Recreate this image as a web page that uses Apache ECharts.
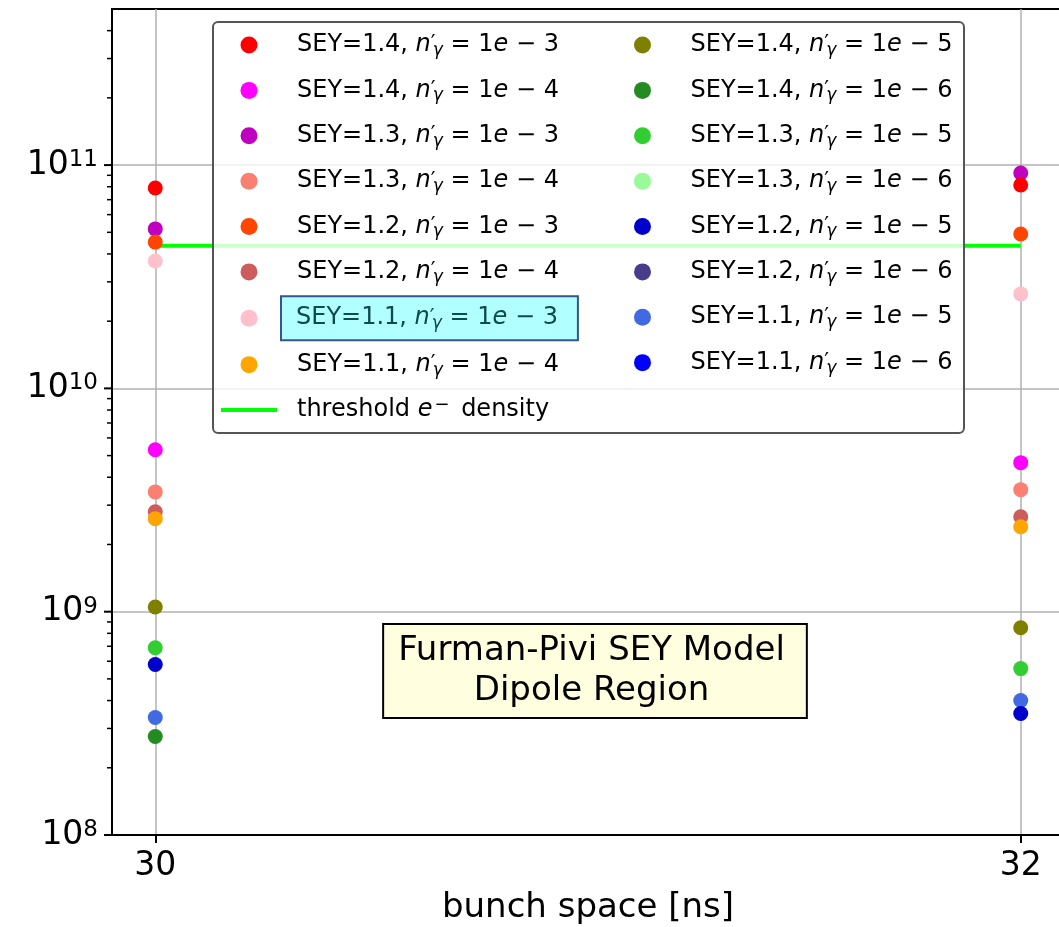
<!DOCTYPE html>
<html><head><meta charset="utf-8">
<script src="https://cdn.jsdelivr.net/npm/echarts@6/dist/echarts.min.js"></script>
<style>html,body{margin:0;padding:0;background:#fff;overflow:hidden}#c{width:1075px;height:927px}</style>
</head><body><div id="c"></div>
<script>
// ---------- data ----------
const bunchSpace = [30, 32];
const xTickValues = [30, 32];
const yMajorTicks = [1e8, 1e9, 1e10, 1e11];
const yMinorTicks = [2e8,3e8,4e8,5e8,6e8,7e8,8e8,9e8,
                     2e9,3e9,4e9,5e9,6e9,7e9,8e9,9e9,
                     2e10,3e10,4e10,5e10,6e10,7e10,8e10,9e10,
                     2e11,3e11,4e11];
const sey14_n3 = [7.9e10, 8.14e10];
const sey14_n4 = [5.31e9, 4.65e9];
const sey13_n3 = [5.18e10, 9.21e10];
const sey13_n4 = [3.44e9, 3.52e9];
const sey12_n3 = [4.52e10, 4.91e10];
const sey12_n4 = [2.80e9, 2.66e9];
const sey11_n3 = [3.72e10, 2.65e10];
const sey11_n4 = [2.61e9, 2.40e9];
const sey14_n5 = [1.05e9, 8.47e8];
const sey14_n6 = [2.76e8, null];
const sey13_n5 = [6.90e8, 5.56e8];
const sey13_n6 = [null, null];
const sey12_n5 = [5.80e8, 3.50e8];
const sey12_n6 = [null, null];
const sey11_n5 = [3.36e8, 4.00e8];
const sey11_n6 = [null, null];
const thresholdDensity = [4.35e10, 4.35e10];

const seyLabels = ['1.4','1.4','1.3','1.3','1.2','1.2','1.1','1.1','1.4','1.4','1.3','1.3','1.2','1.2','1.1','1.1'];
const nExponents = ['3','4','3','4','3','4','3','4','5','6','5','6','5','6','5','6'];
const seriesColors = ['#ff0000','#ff00ff','#bf00bf','#fa8072','#ff4500','#cd5c5c','#ffc0cb','#ffa500',
                      '#808000','#228b22','#32cd32','#98fb98','#0000cd','#483d8b','#4169e1','#0000ff'];
const seriesValues = [sey14_n3, sey14_n4, sey13_n3, sey13_n4, sey12_n3, sey12_n4, sey11_n3, sey11_n4,
                      sey14_n5, sey14_n6, sey13_n5, sey13_n6, sey12_n5, sey12_n6, sey11_n5, sey11_n6];
// drawing order (later on top)
const drawOrder = [2,0,4,6,1,3,5,7,8,9,10,11,14,12,13,15];
const thresholdName = 'threshold e\u207B density';

// ---------- build ----------
const FONT = 'DejaVu Sans';
const names = seyLabels.map((s, i) => "SEY=" + s + ", n'\u03B3=1e-" + nExponents[i]);

function legendFmt(name) {
  if (name === thresholdName) return 'threshold {i|e}{sup|\u2212} density';
  const i = names.indexOf(name);
  return 'SEY=' + seyLabels[i] + ', {i|n}{pr|\u2032}{sb|\u03B3} = 1{i|e} \u2212 ' + nExponents[i];
}
const legendRich = {
  i: {fontStyle: 'italic', fontSize: 24, lineHeight: 28, fontFamily: FONT},
  pr: {fontSize: 21, lineHeight: 28, width: 2, fontFamily: FONT},
  sb: {fontStyle: 'italic', fontSize: 17, lineHeight: 14, verticalAlign: 'bottom', fontFamily: FONT},
  sup: {fontSize: 18, lineHeight: 17, verticalAlign: 'top', fontFamily: FONT, padding: [0, 4, 0, 2]}
};
const legendText = {fontSize: 24, lineHeight: 28, fontFamily: FONT, color: '#000', padding: [8, 20, 8, 15], rich: legendRich};

const leftData = [0,1,2,3,4,5,6,7].map(i => {
  const d = {name: names[i], icon: 'circle'};
  if (i === 6) d.textStyle = {backgroundColor: '#b2ffff', borderColor: '#34558f', borderWidth: 2, color: '#0d4a4a', padding: [7, 19, 7, 14]};
  return d;
});
leftData.push({name: thresholdName, icon: 'path://M0,0H56V4H0Z', itemStyle: {color: '#00ff00'}});
const rightData = [8,9,10,11,12,13,14,15].map(i => ({name: names[i], icon: 'circle'}));

const series = drawOrder.map(i => ({
  type: 'scatter', name: names[i],
  data: bunchSpace.map((x, k) => [x, seriesValues[i][k]]).filter(p => p[1] != null),
  symbol: 'circle', symbolSize: 15,
  itemStyle: {color: seriesColors[i], opacity: 1},
  emphasis: {disabled: true}, z: 3
}));
series.unshift({
  type: 'line', name: thresholdName,
  data: bunchSpace.map((x, k) => [x, thresholdDensity[k]]),
  symbol: 'none', lineStyle: {color: '#00ff00', width: 4}, itemStyle: {color: '#00ff00'},
  emphasis: {disabled: true}, z: 2
});
function tickSeries(vals, len, w) {
  return {
    type: 'custom', silent: true, clip: false, z: 5,
    data: vals.map(v => [30, v]),
    renderItem: function (params, api) {
      const y = api.coord([30, api.value(1)])[1];
      const x0 = params.coordSys.x;
      return {type: 'line', shape: {x1: x0 - len, y1: y, x2: x0, y2: y}, style: {stroke: '#000', lineWidth: w}};
    }
  };
}
series.push(tickSeries(yMinorTicks, 5, 1.5));
series.push(tickSeries(yMajorTicks, 8, 2));

const chart = echarts.init(document.getElementById('c'));
chart.setOption({
  backgroundColor: '#fff',
  animation: false,
  grid: {left: 112, top: 9, width: 952, height: 826, show: true, borderColor: '#000', borderWidth: 2,
         backgroundColor: 'transparent', outerBoundsMode: 'none', containLabel: false},
  xAxis: {
    type: 'value', min: 29.9, max: 32.1,
    name: 'bunch space [ns]', nameLocation: 'middle', nameGap: 56,
    nameTextStyle: {fontSize: 34, fontFamily: FONT, color: '#000'},
    axisLine: {show: true, lineStyle: {color: '#000', width: 2}},
    axisTick: {show: true, customValues: xTickValues, length: 8, lineStyle: {color: '#000', width: 2}},
    axisLabel: {customValues: xTickValues, fontSize: 33, fontFamily: FONT, color: '#000', margin: 15},
    splitLine: {show: true, lineStyle: {color: '#b0b0b0', width: 1.5}}
  },
  yAxis: {
    type: 'log', logBase: 10, min: 1e8, max: 5e11,
    axisLine: {show: true, lineStyle: {color: '#000', width: 2}},
    axisTick: {show: false},
    axisLabel: {
      margin: 14, color: '#000',
      formatter: function (v) {
        const e = Math.log10(v), r = Math.round(e);
        if (Math.abs(e - r) > 1e-6) return '';
        return '{b|10}{s|' + r + '}';
      },
      rich: {
        b: {fontSize: 33, lineHeight: 33, fontFamily: FONT, color: '#000'},
        s: {fontSize: 23, lineHeight: 23, verticalAlign: 'top', fontFamily: FONT, color: '#000'}
      }
    },
    splitLine: {show: true, showMaxLine: false, lineStyle: {color: '#b0b0b0', width: 1.5}}
  },
  legend: [
    {data: leftData, orient: 'vertical', left: 221, top: 23, padding: 0, itemWidth: 56, itemHeight: 17,
     itemGap: 1.375, selectedMode: false, formatter: legendFmt, textStyle: legendText, z: 6},
    {data: rightData, orient: 'vertical', left: 634, top: 23, padding: 0, itemWidth: 56, itemHeight: 17,
     itemGap: 1.375, selectedMode: false, formatter: legendFmt, textStyle: legendText, z: 6}
  ],
  graphic: [
    {type: 'rect', z: 4, shape: {x: 213, y: 22, width: 751, height: 411, r: 5},
     style: {fill: 'rgba(255,255,255,0.8)', stroke: '#555', lineWidth: 2}},
    {type: 'text', z: 6, x: 595, y: 671,
     style: {text: 'Furman-Pivi SEY Model\nDipole Region', fontSize: 34, fontFamily: FONT, fill: '#000',
             align: 'center', verticalAlign: 'middle', lineHeight: 40,
             backgroundColor: '#ffffe0', borderColor: '#000', borderWidth: 2, padding: [6, 21, 6, 14]}}
  ],
  series: series
});
</script></body></html>
